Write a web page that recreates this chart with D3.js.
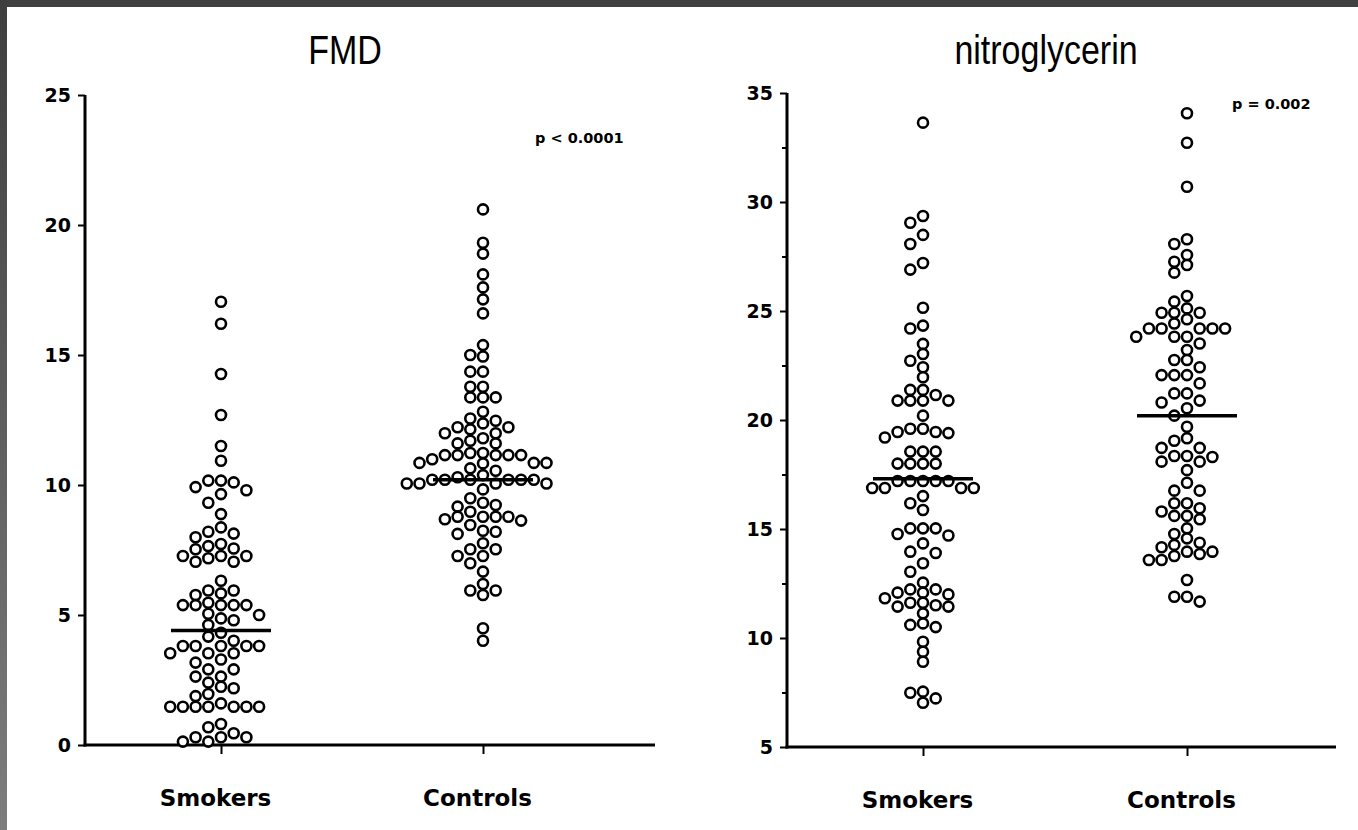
<!DOCTYPE html>
<html><head><meta charset="utf-8">
<script src="https://cdn.jsdelivr.net/npm/d3@7"></script>
<style>html,body{margin:0;padding:0;background:#fff;}svg{display:block;}</style>
</head><body>
<svg id="chart" width="1358" height="830"></svg>
<script>
// ---- data ----
const categories = ["Smokers", "Controls"];
const fmdTicks = [0, 5, 10, 15, 20, 25];
const ntgTicks = [5, 10, 15, 20, 25, 30, 35];
const ntgMinorTicks = [7.5, 12.5, 17.5, 22.5, 27.5, 32.5];

const fmdSmokers = [17.05,16.2,14.27,12.69,11.5,10.93,10.17,10.17,10.1,9.92,9.8,9.65,9.32,8.88,8.37,8.2,8.13,7.99,7.73,7.65,7.56,7.53,7.27,7.27,7.27,7.18,7.05,7.05,
  6.32,5.94,5.94,5.83,5.77,5.47,5.38,5.38,5.38,5.38,5.38,5.05,5.0,4.87,4.8,4.62,4.32,4.17,4.01,3.81,3.81,3.81,3.81,3.81,3.53,3.53,3.53,3.29,3.17,2.91,2.91,2.63,2.63,2.4,2.24,2.18,1.96,1.88,1.6,
  1.47,1.47,1.47,1.47,1.47,1.47,1.47,0.81,0.68,0.45,0.3,0.3,0.3,0.13,0.13];
const fmdControls = [20.6,19.32,18.9,18.1,17.6,17.14,16.6,15.38,15.0,14.94,14.36,14.36,13.78,13.78,13.37,13.37,13.37,12.82,12.56,12.47,12.37,12.22,12.22,12.14,11.99,11.99,11.8,11.7,11.6,11.6,
  11.23,11.23,11.15,11.15,11.15,11.15,11.15,10.99,10.85,10.85,10.85,10.83,10.64,10.55,10.38,10.3,10.2,10.2,10.2,10.2,10.2,10.2,10.06,10.06,10.06,10.06,9.83,9.49,9.32,9.23,9.17,8.97,8.78,8.78,8.78,8.78,8.68,8.63,8.46,8.24,8.2,8.12,
  7.76,7.53,7.53,7.27,7.27,6.99,6.67,6.19,5.94,5.94,5.77,4.49,4.01];
const ntgSmokers = [33.64,29.36,29.05,28.49,28.07,27.2,26.9,25.15,24.33,24.2,23.49,23.03,22.72,22.42,21.96,21.38,21.38,21.15,20.89,20.89,20.89,20.89,20.2,
  19.6,19.6,19.45,19.45,19.4,19.2,18.55,18.55,18.55,18.0,18.0,18.0,18.0,17.2,17.2,17.2,17.2,17.2,16.88,16.88,16.88,16.88,16.51,16.18,15.87,
  15.03,15.03,15.03,14.77,14.7,14.34,13.96,13.9,13.43,13.04,12.54,12.23,12.23,12.08,12.08,12.0,11.82,11.62,11.62,11.44,11.44,11.5,11.13,10.67,10.6,10.5,9.83,9.37,8.91,7.54,7.49,7.23,7.03];
const ntgControls = [34.07,32.72,30.7,28.29,28.07,27.57,27.26,27.11,26.76,25.69,25.43,25.12,24.92,24.92,24.92,24.62,24.43,24.2,24.2,24.2,24.2,24.2,23.82,23.82,23.82,23.51,23.21,22.75,22.75,22.42,22.06,22.06,22.06,21.68,21.22,21.22,20.89,20.8,20.54,20.2,
  19.69,19.16,19.05,18.72,18.72,18.35,18.35,18.3,18.09,18.09,17.7,17.12,16.76,16.76,16.18,16.18,15.95,15.8,15.6,15.6,15.45,15.03,14.77,14.57,14.37,14.27,14.16,13.96,13.96,13.85,13.76,13.58,13.58,12.66,11.89,11.89,11.67];

const fmdMeans = [4.4, 10.2];
const ntgMeans = [17.3, 20.2];
const titles = ["FMD", "nitroglycerin"];
const pTexts = ["p < 0.0001", "p = 0.002"];

// ---- drawing ----
const svg = d3.select("#chart");
const defs = svg.append("defs");
const grad = defs.append("linearGradient").attr("id","lg").attr("x1",0).attr("y1",0).attr("x2",0).attr("y2",1);
grad.append("stop").attr("offset","0%").attr("stop-color","#3e3e3e");
grad.append("stop").attr("offset","100%").attr("stop-color","#7d7d7d");
svg.append("rect").attr("x",0).attr("y",0).attr("width",1358).attr("height",830).attr("fill","#fff");
svg.append("rect").attr("x",0).attr("y",0).attr("width",1358).attr("height",7).attr("fill","#404040");
svg.append("rect").attr("x",0).attr("y",0).attr("width",7).attr("height",830).attr("fill","url(#lg)");

const R = 5, STEP = 12.7, MINDIST = 10;

function swarm(values, y) {
  const sorted = values.slice().sort((a,b)=>b-a);
  const placed = [];
  return sorted.map(v => {
    const py = y(v);
    let k = 0;
    for (let i = 0; i < 40; i++) {
      const cand = i === 0 ? 0 : (i % 2 ? -Math.ceil(i/2) : Math.ceil(i/2));
      const clash = placed.some(p => p.k === cand && Math.abs(p.py - py) < MINDIST);
      if (!clash) { k = cand; break; }
    }
    placed.push({k, py});
    return {v, k, py};
  });
}

function panel(cfg) {
  const g = svg.append("g");
  const y = d3.scaleLinear().domain(cfg.domain).range([cfg.y0, cfg.y1]);
  const x = d3.scalePoint().domain(categories).range(cfg.cats);

  // title (condensed sans)
  g.append("text").attr("transform", `translate(${cfg.titleX},64) scale(0.85,1)`).attr("text-anchor","middle")
    .attr("font-family","Liberation Sans, Arial, sans-serif").attr("font-size",40).attr("fill","#000")
    .text(cfg.title);

  // y axis
  const yAxis = d3.axisLeft(y).tickValues(cfg.ticks).tickSize(7).tickPadding(7).tickFormat(d3.format("d"));
  const ya = g.append("g").attr("transform",`translate(${cfg.ax},0)`).call(yAxis);
  ya.select(".domain").remove();
  ya.selectAll(".tick line").attr("stroke","#000").attr("stroke-width",2);
  ya.selectAll(".tick text").attr("font-family","DejaVu Sans, sans-serif").attr("font-weight","bold")
    .attr("font-size",19).attr("fill","#000");
  if (cfg.minor) {
    const ym = d3.axisLeft(y).tickValues(cfg.minor).tickSize(5).tickFormat("");
    const yma = g.append("g").attr("transform",`translate(${cfg.ax},0)`).call(ym);
    yma.select(".domain").remove();
    yma.selectAll(".tick line").attr("stroke","#000").attr("stroke-width",2);
  }
  g.append("line").attr("x1",cfg.ax).attr("x2",cfg.ax).attr("y1",y(cfg.domain[1])).attr("y2",y(cfg.domain[0])+1.5)
    .attr("stroke","#000").attr("stroke-width",3);

  // x axis
  const xAxis = d3.axisBottom(x).tickSize(9).tickPadding(36);
  const xa = g.append("g").attr("transform",`translate(0,${y(cfg.domain[0])})`).call(xAxis);
  xa.select(".domain").remove();
  xa.selectAll(".tick line").attr("stroke","#000").attr("stroke-width",2);
  xa.selectAll(".tick text").attr("font-family","DejaVu Sans, sans-serif").attr("font-weight","bold")
    .attr("font-size",23).attr("fill","#000").attr("dx", -6);
  g.append("line").attr("x1",cfg.ax-1.5).attr("x2",cfg.axEnd).attr("y1",y(cfg.domain[0])).attr("y2",y(cfg.domain[0]))
    .attr("stroke","#000").attr("stroke-width",3);

  // dots
  cfg.series.forEach((vals, i) => {
    const pts = swarm(vals, y);
    g.append("g").selectAll("circle").data(pts).join("circle")
      .attr("cx", d => x(categories[i]) + d.k * STEP)
      .attr("cy", d => d.py)
      .attr("r", R).attr("fill","#fff").attr("stroke","#000").attr("stroke-width",2.6);
  });

  // mean lines
  cfg.means.forEach((m, i) => {
    g.append("line").attr("x1", x(categories[i]) - 50).attr("x2", x(categories[i]) + 50)
      .attr("y1", y(m)).attr("y2", y(m)).attr("stroke","#000").attr("stroke-width",3.5);
  });

  // p-value
  g.append("text").attr("x", cfg.pX).attr("y", cfg.pY).attr("font-family","DejaVu Sans, sans-serif")
    .attr("font-weight","bold").attr("font-size",14.5).attr("fill","#000").text(cfg.p);
}

panel({domain:[0,25], y0:745, y1:95, cats:[221,483], ax:85, axEnd:655, ticks:fmdTicks,
  title:titles[0], titleX:345, series:[fmdSmokers, fmdControls], means:fmdMeans, p:pTexts[0], pX:535, pY:143});
panel({domain:[5,35], y0:747, y1:93, cats:[923,1187], ax:787, axEnd:1336, ticks:ntgTicks, minor:ntgMinorTicks,
  title:titles[1], titleX:1046, series:[ntgSmokers, ntgControls], means:ntgMeans, p:pTexts[1], pX:1232, pY:109});
</script>
</body></html>
